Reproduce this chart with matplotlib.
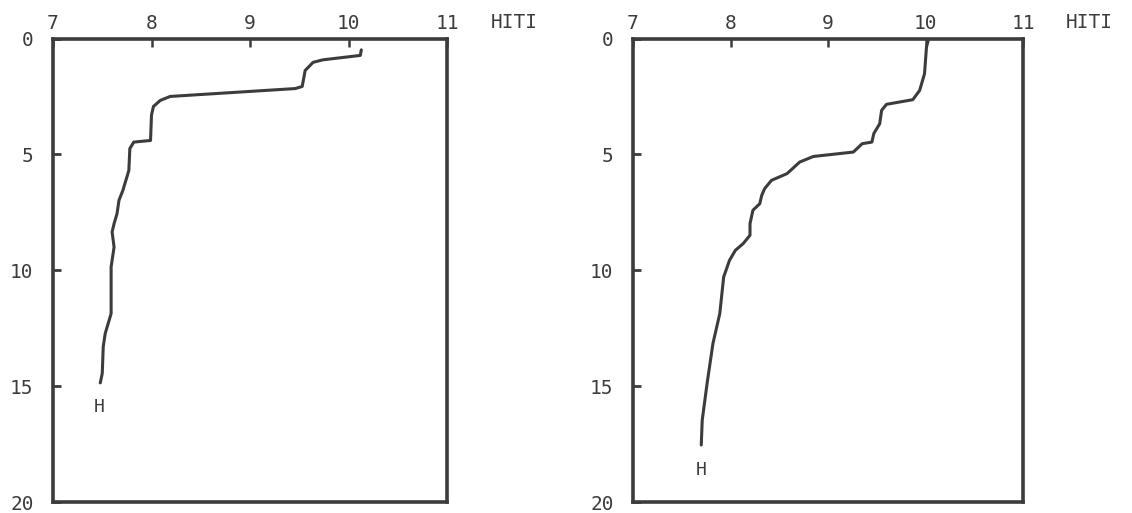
import matplotlib
matplotlib.use("Agg")
import matplotlib.pyplot as plt

# Left profile (HITI value vs depth)
left_hiti = [10.13, 10.12, 9.74, 9.64, 9.56, 9.53, 9.46, 8.19, 8.09, 8.02, 8.00, 7.99, 7.82,
             7.78, 7.77, 7.75, 7.72, 7.71, 7.67, 7.65, 7.62, 7.60, 7.62, 7.59, 7.59, 7.53,
             7.51, 7.50, 7.48]
left_depth = [0.49, 0.73, 0.92, 1.03, 1.38, 2.07, 2.16, 2.50, 2.67, 2.93, 3.30, 4.40, 4.47,
              4.75, 5.69, 5.98, 6.40, 6.55, 6.98, 7.56, 7.99, 8.35, 9.00, 9.86, 11.87, 12.73,
              13.30, 14.45, 14.86]

# Right profile
right_hiti = [10.03, 10.01, 9.99, 9.94, 9.87, 9.60, 9.55, 9.53, 9.47, 9.45, 9.35, 9.26, 8.85,
              8.71, 8.58, 8.42, 8.35, 8.32, 8.30, 8.23, 8.20, 8.20, 8.13, 8.05, 7.99, 7.93,
              7.89, 7.82, 7.76, 7.71, 7.70]
right_depth = [0.05, 0.37, 1.52, 2.24, 2.64, 2.84, 3.10, 3.68, 4.10, 4.47, 4.54, 4.90, 5.09,
               5.33, 5.83, 6.12, 6.48, 6.77, 7.13, 7.41, 7.99, 8.49, 8.85, 9.14, 9.57, 10.29,
               11.87, 13.16, 14.88, 16.47, 17.54]

x_ticks = [7, 8, 9, 10, 11]
y_ticks = [0, 5, 10, 15, 20]
axis_label = "HITI"
end_label = "H"
left_label_pos = (7.47, 15.9)
right_label_pos = (7.70, 18.6)

INK = "#3c3c3c"
FONT = "DejaVu Sans Mono"
FS = 14

W, H = 1132, 513
fig = plt.figure(figsize=(W / 100, H / 100), dpi=100)
fig.patch.set_facecolor("white")

def make_ax(left_px, right_px, top_px, bottom_px):
    return fig.add_axes([left_px / W, 1 - bottom_px / H,
                         (right_px - left_px) / W, (bottom_px - top_px) / H])

ax1 = make_ax(53, 447, 38.5, 502)
ax2 = make_ax(633, 1023, 38.5, 502)

for ax, xs, ds, lab in [(ax1, left_hiti, left_depth, left_label_pos),
                        (ax2, right_hiti, right_depth, right_label_pos)]:
    ax.plot(xs, ds, color=INK, lw=2.2, solid_joinstyle="round", solid_capstyle="round")
    ax.set_xlim(7, 11)
    ax.set_ylim(20, 0)
    ax.xaxis.tick_top()
    ax.set_xticks(x_ticks)
    ax.set_yticks(y_ticks)
    ax.set_xticklabels([str(t) for t in x_ticks], fontfamily=FONT, fontsize=FS, color=INK)
    ax.set_yticklabels([str(t) for t in y_ticks], fontfamily=FONT, fontsize=FS, color=INK)
    ax.tick_params(axis="x", direction="in", length=6, width=1.8, color=INK, pad=4)
    ax.tick_params(axis="y", direction="in", length=6, width=2.0, color=INK, pad=14)
    for sp in ax.spines.values():
        sp.set_color(INK)
        sp.set_linewidth(2.6)
    ax.text(lab[0], lab[1], end_label, fontfamily=FONT, fontsize=13, color=INK,
            ha="center", va="center")
    ax.text(1.11, 1.0 + 16 / 463.5, axis_label, transform=ax.transAxes,
            fontfamily=FONT, fontsize=FS, color=INK, ha="left", va="center")

fig.savefig("out.png", dpi=100, facecolor="white")
